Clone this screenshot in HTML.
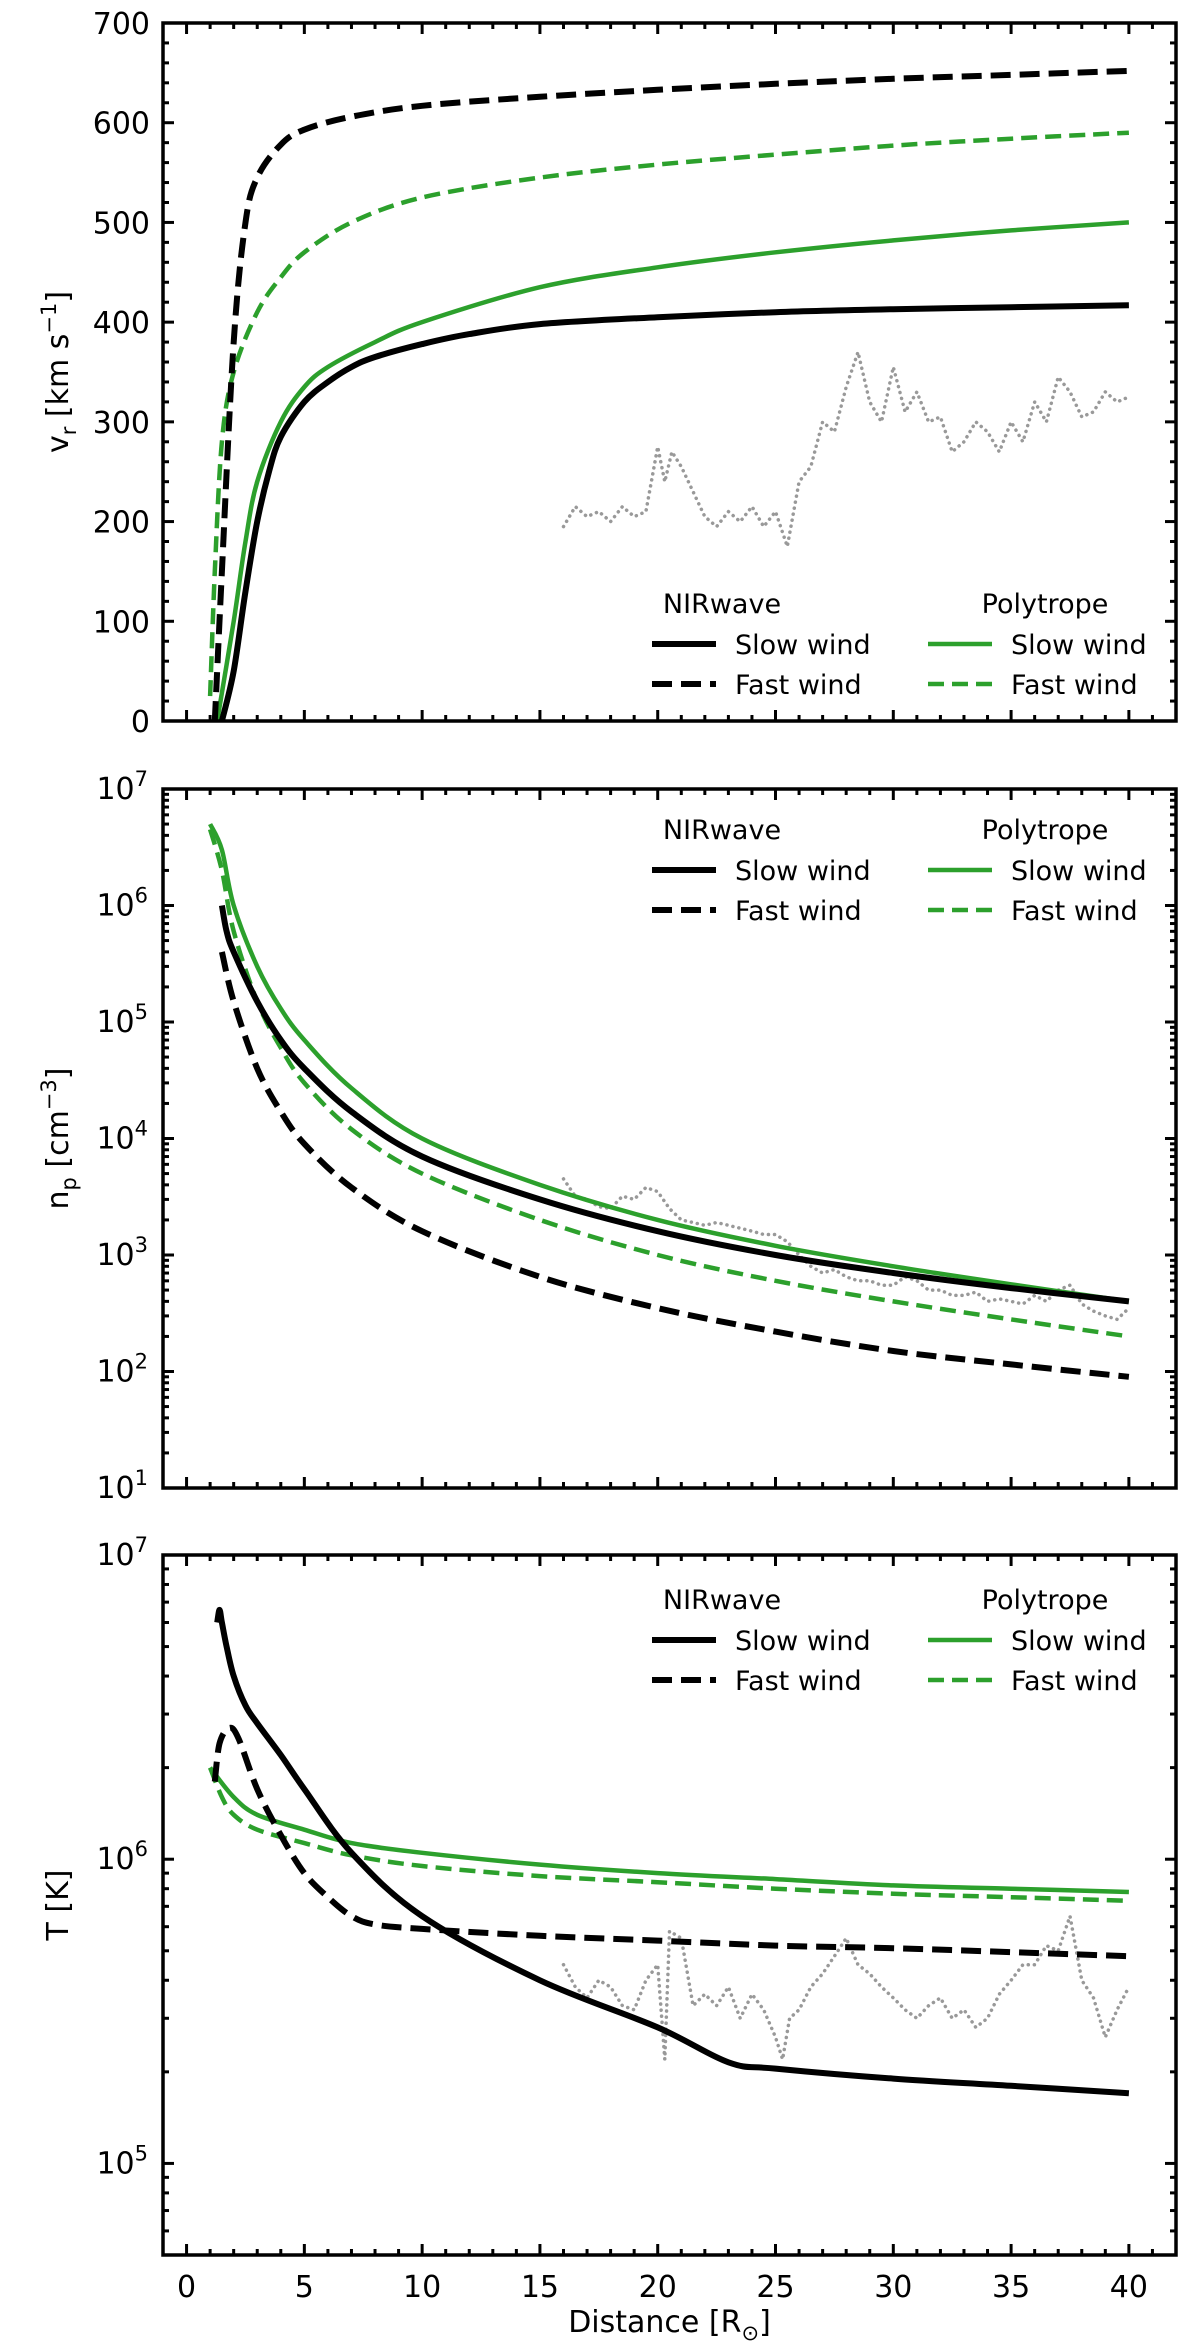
<!DOCTYPE html>
<html><head><meta charset="utf-8"><style>
html,body{margin:0;padding:0;background:#fff}
svg{display:block;font-family:"DejaVu Sans","Liberation Sans",sans-serif}
</style></head><body>
<svg id="fig" width="1200" height="2341" viewBox="0 0 1200 2341" xmlns="http://www.w3.org/2000/svg"></svg>
<script>
// ---- data ----
const vNirSlowX=[1.5,2,2.5,3,3.5,4,5,6,7,8,10,12,15,20,25,30,35,40];
const vNirSlowY=[0,50,130,200,250,285,320,340,355,365,378,388,398,405,410,413,415,417];
const vPolySlowX=[1.3,2,2.5,3,4,5,6,8,10,15,20,25,30,35,40];
const vPolySlowY=[0,100,180,240,300,335,355,380,400,435,455,470,482,492,500];
const vNirFastX=[1.2,1.5,2,2.5,3,4,5,7,10,15,20,25,30,35,40];
const vNirFastY=[0,150,380,500,545,578,593,606,617,626,633,639,644,648,652];
const vPolyFastX=[1,1.2,1.5,2,3,4,5,7,10,15,20,25,30,35,40];
const vPolyFastY=[25,150,280,350,410,445,470,500,525,545,558,568,577,584,590];
const vObsX=[16,16.5,17,17.5,18,18.5,19,19.5,20,20.3,20.6,21,21.5,22,22.5,23,23.5,24,24.5,25,25.5,26,26.5,27,27.5,28,28.5,29,29.5,30,30.5,31,31.5,32,32.5,33,33.5,34,34.5,35,35.5,36,36.5,37,37.5,38,38.5,39,39.5,40];
const vObsY=[195,215,205,210,200,215,205,210,275,240,270,255,230,205,195,210,200,215,195,210,175,240,255,300,290,335,370,320,300,355,310,330,300,305,270,280,300,290,270,300,280,320,300,345,330,305,310,330,320,325];

const nNirSlowX=[1.5,1.7,2,3,4,5,7,10,15,20,25,30,35,40];
const nNirSlowY=[1e6,6e5,4e5,1.5e5,7e4,4e4,1.7e4,7e3,3e3,1.6e3,1e3,700,520,400];
const nPolySlowX=[1,1.5,2,3,4,5,7,10,15,20,25,30,35,40];
const nPolySlowY=[5e6,3e6,1e6,3e5,1.3e5,7e4,2.7e4,1e4,4e3,2e3,1.2e3,800,560,400];
const nNirFastX=[1.5,2,3,4,5,7,10,15,20,25,30,35,40];
const nNirFastY=[4e5,1.5e5,4e4,1.7e4,9e3,3.8e3,1.6e3,650,350,220,150,115,90];
const nPolyFastX=[1,1.5,2,3,4,5,7,10,15,20,25,30,35,40];
const nPolyFastY=[4.5e6,2e6,6e5,1.5e5,6e4,3e4,1.2e4,5e3,2e3,1e3,600,400,280,200];
const nObsX=[16,16.5,17,17.5,18,18.5,19,19.5,20,20.5,21,21.5,22,22.5,23,23.5,24,24.5,25,25.5,26,26.5,27,27.5,28,28.5,29,29.5,30,30.5,31,31.5,32,32.5,33,33.5,34,34.5,35,35.5,36,36.5,37,37.5,38,38.5,39,39.5,40];
const nObsY=[4500,3200,3000,2600,2500,3200,3000,3800,3500,2500,2000,1900,1800,1900,1800,1700,1600,1500,1500,1300,1000,800,700,750,650,600,600,550,550,650,600,500,500,450,450,480,400,420,400,380,450,400,500,550,380,330,300,280,350];

const tNirSlowX=[1.3,1.4,1.5,1.7,2,2.5,3,4,5,7,10,15,20,23,25,30,35,40];
const tNirSlowY=[6e6,6.6e6,6e6,5e6,4e6,3.2e6,2.8e6,2.2e6,1.7e6,1.05e6,6.5e5,4e5,2.8e5,2.15e5,2.05e5,1.9e5,1.8e5,1.7e5];
const tNirFastX=[1.2,1.4,1.8,2.2,3,4,5,6,7,8,10,15,20,25,30,35,40];
const tNirFastY=[1.8e6,2.4e6,2.7e6,2.5e6,1.7e6,1.2e6,9e5,7.5e5,6.5e5,6.1e5,5.9e5,5.6e5,5.4e5,5.2e5,5.1e5,4.95e5,4.8e5];
const tPolySlowX=[1,2,3,5,7,10,15,20,25,30,35,40];
const tPolySlowY=[2e6,1.6e6,1.4e6,1.25e6,1.13e6,1.05e6,9.6e5,9e5,8.6e5,8.2e5,8e5,7.8e5];
const tPolyFastX=[1,1.5,2,3,5,7,10,15,20,25,30,35,40];
const tPolyFastY=[2e6,1.6e6,1.4e6,1.25e6,1.13e6,1.03e6,9.5e5,8.8e5,8.4e5,8e5,7.7e5,7.5e5,7.3e5];
const tObsX=[16,16.5,17,17.5,18,18.5,19,19.5,20,20.3,20.5,21,21.5,22,22.5,23,23.5,24,24.5,25,25.3,25.6,26,26.5,27,27.5,28,28.5,29,29.5,30,30.5,31,31.5,32,32.5,33,33.5,34,34.5,35,35.5,36,36.5,37,37.5,38,38.5,39,39.5,40];
const tObsY=[4.5e5,3.8e5,3.5e5,4e5,3.8e5,3.3e5,3.2e5,4e5,4.5e5,2.2e5,5.8e5,5.5e5,3.3e5,3.6e5,3.3e5,3.8e5,3e5,3.6e5,3.2e5,2.6e5,2.2e5,3e5,3.2e5,3.8e5,4.2e5,4.8e5,5.5e5,4.5e5,4.2e5,3.8e5,3.5e5,3.2e5,3e5,3.3e5,3.5e5,3e5,3.2e5,2.8e5,3e5,3.6e5,4e5,4.5e5,4.5e5,5.2e5,5e5,6.5e5,4e5,3.5e5,2.6e5,3.2e5,3.8e5];

const xTicks=[0,5,10,15,20,25,30,35,40];
const vTicks=[0,100,200,300,400,500,600,700];

// ---- layout ----
const NS="http://www.w3.org/2000/svg";
const svg=document.getElementById('fig');
const L=163,R=1176,XMIN=-1,XMAX=42;
const sx=v=>L+(v-XMIN)/(XMAX-XMIN)*(R-L);
const BLACK="#000",GREEN="#2ca02c",GRAY="#999";
const FS=30;
function el(tag,attrs,parent){const e=document.createElementNS(NS,tag);for(const k in attrs)e.setAttribute(k,attrs[k]);(parent||svg).appendChild(e);return e;}

const panels=[
 {key:'velocity',top:23,bot:721,log:false,min:0,max:700},
 {key:'density',top:789,bot:1488,log:true,min:1,max:7},
 {key:'temperature',top:1555,bot:2255,log:true,min:Math.log10(5e4),max:7}
];
panels.forEach(p=>{
 p.sy=v=>{const t=p.log?Math.log10(v):v;return p.bot-(t-p.min)/(p.max-p.min)*(p.bot-p.top);};
});

function smoothPath(pts){
 let d='M'+pts[0][0].toFixed(1)+','+pts[0][1].toFixed(1);
 for(let i=0;i<pts.length-1;i++){
  const p0=pts[i-1]||pts[i],p1=pts[i],p2=pts[i+1],p3=pts[i+2]||p2;
  const c1=[p1[0]+(p2[0]-p0[0])/6,p1[1]+(p2[1]-p0[1])/6];
  const c2=[p2[0]-(p3[0]-p1[0])/6,p2[1]-(p3[1]-p1[1])/6];
  d+='C'+c1.map(v=>v.toFixed(1)).join(',')+' '+c2.map(v=>v.toFixed(1)).join(',')+' '+p2[0].toFixed(1)+','+p2[1].toFixed(1);
 }
 return d;
}
function series(p,xs,ys,color,w,dash,name){
 const pts=xs.map((x,i)=>[sx(x),p.sy(ys[i])]);
 const d=dash==='dot'?pts.map((q,i)=>(i?'L':'M')+q[0].toFixed(1)+','+q[1].toFixed(1)).join(''):smoothPath(pts);
 const path=el('path',{d:d,fill:'none',stroke:color,'stroke-width':w,'stroke-linejoin':'round','stroke-linecap':dash==='dot'?'round':'butt'});
 if(dash==='dash')path.setAttribute('stroke-dasharray','20,9');
 if(dash==='gdash')path.setAttribute('stroke-dasharray','16,8');
 if(dash==='dot')path.setAttribute('stroke-dasharray','0.1,6');
 
 
}

function axes(p,ylabel,lastX){
 const g=el('g',{});
 
 
 for(let v=-1;v<=42;v++){
  const major=v%5===0&&v>=0;const len=major?11:6;const x=sx(v);
  el('line',{x1:x,x2:x,y1:p.bot,y2:p.bot-len,stroke:'#000','stroke-width':3},g);
  el('line',{x1:x,x2:x,y1:p.top,y2:p.top+len,stroke:'#000','stroke-width':3},g);
 }
 if(lastX){xTicks.forEach(v=>{const t=el('text',{x:sx(v),y:p.bot+42,'font-size':FS,'text-anchor':'middle'},g);t.textContent=v;
  });}
 const ytick=(y,major)=>{const len=major?11:6;
  el('line',{x1:L,x2:L+len,y1:y,y2:y,stroke:'#000','stroke-width':3},g);
  el('line',{x1:R,x2:R-len,y1:y,y2:y,stroke:'#000','stroke-width':3},g);};
 if(!p.log){
  for(let v=0;v<=700;v+=20)ytick(p.sy(v),v%100===0);
  vTicks.forEach(v=>{const t=el('text',{x:150,y:p.sy(v)+11,'font-size':FS,'text-anchor':'end'},g);t.textContent=v;
   });
 } else {
  for(let e=Math.floor(p.min);e<p.max;e++){
   for(let m=1;m<10;m++){const lv=e+Math.log10(m);if(lv<p.min-1e-9)continue;ytick(p.sy(Math.pow(10,lv)),m===1);}
  }
  ytick(p.top,true);
  for(let e=Math.ceil(p.min);e<=p.max;e++){
   const t=el('text',{x:148,y:p.sy(Math.pow(10,e))+10,'font-size':FS,'text-anchor':'end'},g);
   t.innerHTML='10<tspan dy="-13" font-size="21">'+e+'</tspan>';
   
  }
 }
 el('rect',{x:L,y:p.top,width:R-L,height:p.bot-p.top,fill:'none',stroke:'#000','stroke-width':3.5},g);
 const cy=(p.top+p.bot)/2;
 const yl=el('text',{x:0,y:0,'font-size':FS,'text-anchor':'middle',transform:`translate(68,${cy}) rotate(-90)`});
 yl.innerHTML=ylabel;
 
 
}

function legend(p,y0){
 const g=el('g',{});
 
 
 const txt=(x,y,s,anchor)=>{const t=el('text',{x:x,y:y,'font-size':27,'text-anchor':anchor||'start'},g);t.textContent=s;return t;};
 txt(722,y0+10,'NIRwave','middle');txt(1045,y0+10,'Polytrope','middle');
 const rows=[[y0+41,false],[y0+81,true]];
 rows.forEach(([y,fast])=>{
  const l1=el('line',{x1:652,x2:716,y1:y,y2:y,stroke:BLACK,'stroke-width':6},g);
  if(fast)l1.setAttribute('stroke-dasharray','20,9');
  
  
  txt(735,y+10,fast?'Fast wind':'Slow wind');
  const l2=el('line',{x1:928,x2:992,y1:y,y2:y,stroke:GREEN,'stroke-width':4.5},g);
  if(fast)l2.setAttribute('stroke-dasharray','16,8');
  
  
  txt(1011,y+10,fast?'Fast wind':'Slow wind');
 });
}

const P1=panels[0],P2=panels[1],P3=panels[2];
series(P1,vObsX,vObsY,GRAY,3.5,'dot','v-observed');
series(P1,vPolyFastX,vPolyFastY,GREEN,4.5,'gdash','v-polytrope-fast');
series(P1,vPolySlowX,vPolySlowY,GREEN,4.5,null,'v-polytrope-slow');
series(P1,vNirFastX,vNirFastY,BLACK,6,'dash','v-nirwave-fast');
series(P1,vNirSlowX,vNirSlowY,BLACK,6,null,'v-nirwave-slow');
axes(P1,'v<tspan dy="8" font-size="21">r</tspan><tspan dy="-8"> [km s</tspan><tspan dy="-12" font-size="21">−1</tspan><tspan dy="12">]</tspan>',false);
legend(P1,603);
series(P2,nObsX,nObsY,GRAY,3.5,'dot','n-observed');
series(P2,nPolyFastX,nPolyFastY,GREEN,4.5,'gdash','n-polytrope-fast');
series(P2,nPolySlowX,nPolySlowY,GREEN,4.5,null,'n-polytrope-slow');
series(P2,nNirFastX,nNirFastY,BLACK,6,'dash','n-nirwave-fast');
series(P2,nNirSlowX,nNirSlowY,BLACK,6,null,'n-nirwave-slow');
axes(P2,'n<tspan dy="8" font-size="21">p</tspan><tspan dy="-8"> [cm</tspan><tspan dy="-12" font-size="21">−3</tspan><tspan dy="12">]</tspan>',false);
legend(P2,829);
series(P3,tObsX,tObsY,GRAY,3.5,'dot','t-observed');
series(P3,tPolyFastX,tPolyFastY,GREEN,4.5,'gdash','t-polytrope-fast');
series(P3,tPolySlowX,tPolySlowY,GREEN,4.5,null,'t-polytrope-slow');
series(P3,tNirFastX,tNirFastY,BLACK,6,'dash','t-nirwave-fast');
series(P3,tNirSlowX,tNirSlowY,BLACK,6,null,'t-nirwave-slow');
axes(P3,'T [K]',true);
legend(P3,1599);
const xl=el('text',{x:(L+R)/2,y:2332,'font-size':FS,'text-anchor':'middle'});
xl.innerHTML='Distance [R<tspan dy="8" font-size="21">⊙</tspan><tspan dy="-8">]</tspan>';


</script>
</body></html>
